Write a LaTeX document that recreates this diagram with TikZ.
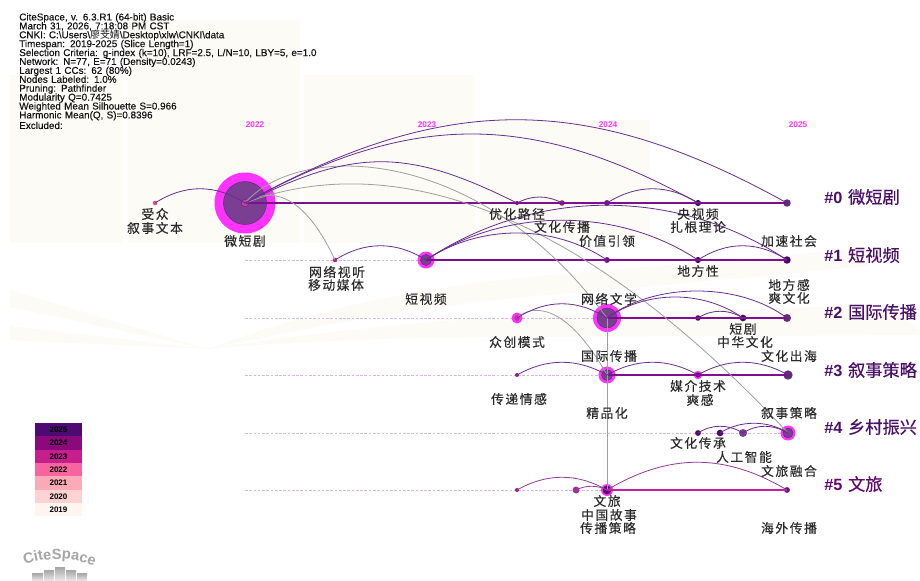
\documentclass[tikz,border=0pt]{standalone}
\usepackage{fontspec}
\setmainfont{Liberation Sans}
\newfontfamily\hdf[FakeBold=0.25]{Liberation Sans}
\newfontfamily\cjk[LetterSpace=12,FakeBold=0.2]{Noto Sans CJK SC}
\newfontfamily\cjkt{Noto Sans CJK SC}
\newfontfamily\cjkc[FakeBold=0.35]{Noto Sans CJK SC}
\usetikzlibrary{decorations.text}
\definecolor{arcp}{HTML}{6A2C8E}
\definecolor{farc}{HTML}{913C96}
\definecolor{linep}{HTML}{800F8F}
\definecolor{linef}{HTML}{C71EA0}
\definecolor{dashp}{HTML}{D7B5E0}
\definecolor{mag}{HTML}{FF33FF}
\definecolor{inner}{HTML}{7A3E92}
\definecolor{cream}{HTML}{FDFBF6}
\definecolor{head}{HTML}{111111}
\definecolor{lab}{HTML}{2A2A2A}
\definecolor{clu}{HTML}{4A1068}
\definecolor{clv}{HTML}{64056E}
\definecolor{d1}{HTML}{D65496}
\definecolor{d2}{HTML}{780A7D}
\definecolor{d3}{HTML}{961E82}
\definecolor{d4}{HTML}{6E147D}
\definecolor{d5}{HTML}{460A69}
\definecolor{d6}{HTML}{5E2E78}
\definecolor{d7}{HTML}{BE1E82}
\definecolor{d8}{HTML}{BE32A0}
\definecolor{d9}{HTML}{550A6E}
\definecolor{d10}{HTML}{A03296}
\definecolor{d11}{HTML}{5A0573}
\definecolor{d12}{HTML}{5F1E7D}
\definecolor{d13}{HTML}{C0409A}
\newcommand{\cjkl}[1]{\hspace{0.9pt}{\mdseries\fontsize{12.9pt}{14pt}\cjkc #1}}
\tikzset{
  x=0.75pt,y=-0.75pt,
  halo/.style={circle,fill=mag,inner sep=0pt,minimum size=#1*0.75pt},
  core/.style={circle,fill=inner,draw=inner!70!black,line width=.3pt,inner sep=0pt,minimum size=#1*0.75pt},
  dot/.style={circle,fill=#1,inner sep=0pt},
  arc/.style={draw=arcp,line width=.6pt},
  garc/.style={draw=gray!75,line width=.6pt},
  rowline/.style={draw=linep,line width=1.4pt},
  rowdash/.style={draw=dashp,line width=.5pt,dash pattern=on 2pt off 1.2pt},
  lbl/.style={text=lab,font=\cjk\fontsize{9.6pt}{10pt}\selectfont,inner sep=0pt,anchor=center},
  yr/.style={text=mag,font=\bfseries\fontsize{6.2pt}{7pt}\selectfont,inner sep=0pt},
  clab/.style={text=clu,font=\bfseries\fontsize{12.2pt}{14pt}\selectfont,inner sep=0pt,anchor=west},
  legbox/.style={inner sep=0pt,minimum width=35.25pt,minimum height=10pt,font=\bfseries\fontsize{6pt}{7pt}\selectfont,text=black},
}
\begin{document}
\begin{tikzpicture}
\useasboundingbox (0,0) rectangle (920,581);
\fill[white] (0,0) rectangle (920,581);
% background
\fill[cream] (128,20) rectangle (300,158);
\fill[cream] (10,75) rectangle (123,243);
\fill[cream] (128,75) rectangle (300,243);
\fill[cream] (304,75) rectangle (475,243);
\fill[cream] (480,120) rectangle (650,240);
\fill[cream] (10,290) -- (208,349) -- (10,307) -- cycle;
\fill[cream] (10,326) -- (208,349) -- (10,340) -- cycle;
\fill[cream] (208,349) .. controls (300,315) and (400,285) .. (610,270) -- (870,248) -- (868,266) -- (610,290) .. controls (450,300) and (320,325) .. (208,349) -- cycle;
\fill[cream] (208,349) .. controls (300,335) and (400,322) .. (540,315) -- (890,305) -- (925,335) -- (480,337) .. controls (380,338) and (280,342) .. (208,349) -- cycle;
% dashed row guides
\coordinate (g1) at (245,260);
\coordinate (g2) at (245,318);
\coordinate (g3) at (245,375);
\coordinate (g4) at (245,433);
\coordinate (g5) at (245,490);
\draw[rowdash] (g1) -- (426,260);
\draw[rowdash] (g2) -- (607,318);
\draw[rowdash] (g3) -- (607,375);
\draw[rowdash] (g4) -- (788,433);
\draw[rowdash] (g5) -- (607,490);
% nodes
\node[halo=61] (a0h) at (245,203) {};
\node[core=43] (a0c) at (245,203) {};
\node[dot=d13,draw=d4,line width=.2pt,minimum size=5.6pt] (a0) at (245,203) {};
\node[dot=d1,minimum size=3.4pt] (a00) at (155,203) {};
\node[dot=d2,minimum size=3pt] (a1) at (517,203) {};
\node[dot=d3,minimum size=4.2pt] (a2) at (562,203) {};
\node[dot=d4,minimum size=4.4pt] (a3) at (607,203) {};
\node[dot=d5,minimum size=4.6pt] (a4) at (698,203) {};
\node[dot=d6,minimum size=5.6pt] (a5) at (787,203) {};
\node[dot=d7,minimum size=3.4pt] (b0) at (335,260) {};
\node[halo=17] (b1h) at (426,260) {};
\node[core=11] (b1) at (426,260) {};
\node[dot=d4,minimum size=4.4pt] (b2) at (607,260) {};
\node[dot=d5,minimum size=4.6pt] (b3) at (698,260) {};
\node[dot=d5,minimum size=5.6pt] (b4) at (787,260) {};
\node[halo=11] (c0h) at (517,318) {};
\node[dot=d8,minimum size=4pt] (c0) at (517,318) {};
\node[halo=28] (c1h) at (607,318) {};
\node[core=20] (c1) at (607,318) {};
\node[dot=d9,minimum size=4.2pt] (c2) at (698,318) {};
\node[dot=d5,minimum size=5pt] (c3) at (743,318) {};
\node[dot=d6,minimum size=6pt] (c4) at (787,318) {};
\node[dot=d3,minimum size=3pt] (d0) at (517,375) {};
\node[halo=17] (d1h) at (607,375) {};
\node[core=11] (d1) at (607,375) {};
\node[halo=8.5] (d2h) at (698,375) {};
\node[dot=d9,minimum size=3.8pt] (d2) at (698,375) {};
\node[dot=d6,minimum size=7pt] (d3) at (788,375) {};
\node[dot=d9,minimum size=4.4pt] (e0) at (698,433) {};
\node[dot=d9,minimum size=5pt] (e1) at (720,433) {};
\node[dot=inner,minimum size=6pt] (e2) at (743,433) {};
\node[halo=15] (e3h) at (788,433) {};
\node[core=10] (e3) at (788,433) {};
\node[dot=d3,minimum size=3pt] (f0) at (517,490) {};
\node[dot=d10,minimum size=5.2pt] (f1) at (576,490) {};
\node[halo=12] (f2h) at (607,490) {};
\node[dot=d11,minimum size=6.6pt] (f2) at (607,490) {};
\node[dot=d12,minimum size=4.4pt] (f3) at (787,490) {};
% row lines
\draw[rowline] (a0.center) -- (a5.center);
\draw[rowline] (b1.center) -- (b4.center);
\draw[rowline] (c1.center) -- (c4.center);
\draw[rowline] (d1.center) -- (d3.center);
\draw[rowline,draw=linef] (f2.center) -- (f3.center);
% grey arcs
\draw[garc] (a0.center) .. controls (320,175) and (510,135) .. (e3.center);
\draw[garc] (a0.center) .. controls (300,140) and (480,145) .. (c1.center);
\draw[garc] (a0.center) .. controls (265,190) and (300,185) .. (b0.center);
\draw[garc] (c0.center) .. controls (530,305) and (565,300) .. (d1.center);
\draw[garc] (c1.center) -- (f2.center);
% purple arcs
\draw[arc] (a00.center) .. controls (185,184) and (215,184) .. (a0.center);
\draw[arc] (a0.center) .. controls (355,148) and (407,148) .. (a1.center);
\draw[arc] (a0.center) .. controls (412,111) and (531,111) .. (a4.center);
\draw[arc] (a0.center) .. controls (445,92) and (587,92) .. (a5.center);
\draw[arc] (a1.center) .. controls (532,195) and (547,195) .. (a2.center);
\draw[arc] (a3.center) .. controls (637,184) and (668,184) .. (a4.center);
\draw[arc] (b0.center) .. controls (365,241) and (396,241) .. (b1.center);
\draw[arc] (b1.center) .. controls (480,224) and (553,224) .. (b2.center);
\draw[arc] (b1.center) .. controls (506,207) and (618,207) .. (b3.center);
\draw[arc] (b1.center) .. controls (536,187) and (677,187) .. (b4.center);
\draw[arc] (b3.center) .. controls (727,241) and (758,241) .. (b4.center);
\draw[arc] (c0.center) .. controls (547,299) and (577,299) .. (c1.center);
\draw[arc] (c1.center) .. controls (647,290) and (703,290) .. (c3.center);
\draw[arc] (c1.center) .. controls (655,282) and (739,282) .. (c4.center);
\draw[arc] (c2.center) .. controls (712,309) and (728,309) .. (c3.center);
\draw[arc] (d0.center) .. controls (547,358) and (577,358) .. (d1.center);
\draw[arc] (d1.center) .. controls (637,358) and (668,358) .. (d2.center);
\draw[arc] (d2.center) .. controls (727,358) and (758,358) .. (d3.center);
\draw[arc] (e0.center) .. controls (712,424) and (728,424) .. (e2.center);
\draw[arc] (e1.center) .. controls (740,420) and (768,420) .. (e3.center);
\draw[arc] (e2.center) .. controls (757,424) and (772,424) .. (e3.center);
\draw[arc,draw=farc] (f0.center) .. controls (547,473) and (577,473) .. (f2.center);
\draw[arc,draw=farc] (f1.center) .. controls (586,485) and (597,485) .. (f2.center);
\draw[arc,draw=farc] (f2.center) .. controls (669,453) and (725,453) .. (f3.center);
% header
\node[anchor=north west,inner sep=0pt,text=head,align=left,font=\hdf\fontsize{7.42pt}{6.68pt}\selectfont,text width=320pt] (hdr) at (19,13) {\lineskiplimit=-5pt\relax CiteSpace, v. 6.3.R1 (64-bit) Basic\\
March 31, 2026, 7:18:08 PM CST\\
CNKI: C:\textbackslash Users\textbackslash{\cjkt 廖芠婧}\textbackslash Desktop\textbackslash xlw\textbackslash CNKI\textbackslash data\\
Timespan: 2019-2025 (Slice Length=1)\\
Selection Criteria: g-index (k=10), LRF=2.5, L/N=10, LBY=5, e=1.0\\
Network: N=77, E=71 (Density=0.0243)\\
Largest 1 CCs: 62 (80\%)\\
Nodes Labeled: 1.0\%\\
Pruning: Pathfinder\\
Modularity Q=0.7425\\
Weighted Mean Silhouette S=0.966\\
Harmonic Mean(Q, S)=0.8396\\
Excluded:};
% years
\node[yr] (y22) at (255,125) {2022};
\node[yr] (y23) at (427,125) {2023};
\node[yr] (y24) at (608,125) {2024};
\node[yr] (y25) at (798,125) {2025};
% labels
\foreach \n/\x/\y/\t in {
 l1/155/214/受众,l2/155/228/叙事文本,l3/245/241/微短剧,l4/337/272/网络视听,l5/336/285/移动媒体,
 l6/426/299/短视频,l7/517/214/优化路径,l8/562/227/文化传播,l9/607/241/价值引领,l10/698/214/央视频,
 l11/698/227/扎根理论,l12/789/241/加速社会,l13/698/271/地方性,l14/789/285/地方感,l15/789/298/爽文化,
 l16/609/299/网络文学,l17/743/329/短剧,l18/745/342/中华文化,l19/517/342/众创模式,l20/609/356/国际传播,
 l21/789/356/文化出海,l22/698/386/媒介技术,l23/700/400/爽感,l24/519/399/传递情感,l25/607/413/精品化,
 l26/789/413/叙事策略,l27/698/443/文化传承,l28/744/457/人工智能,l29/789/471/文旅融合,l30/607/501/文旅,
 l31/609/515/中国故事,l32/608/528/传播策略,l33/789/528/海外传播}
 {\node[lbl] (\n) at (\x,\y) {\t};}
% cluster labels
\node[clab] (k0) at (824,197) {\#0 \cjkl{微短剧}};
\node[clab] (k1) at (824,255) {\#1 \cjkl{短视频}};
\node[clab] (k2) at (824,312) {\#2 \cjkl{国际传播}};
\node[clab] (k3) at (824,370) {\#3 \cjkl{叙事策略}};
\node[clab] (k4) at (824,427) {\#4 \cjkl{乡村振兴}};
\node[clab,text=clv] (k5) at (824,484) {\#5 \cjkl{文旅}};
% legend
\foreach \n/\c/\y/\t in {s0/4D0A73/429.6/2025,s1/8A0A7B/443/2024,s2/C71E8E/456.3/2023,s3/F765A0/469.6/2022,s4/FBABB8/483/2021,s5/FDD2D2/496.3/2020,s6/FFF5F0/509.6/2019}
 {\definecolor{cc}{HTML}{\c}\node[legbox,fill=cc] (\n) at (58.5,\y) {\t};}
% logo
\foreach \x/\w/\t in {32/11/573,44/10/570,55/10/567,66/10/570,77/10/573}
 {\shade[top color=gray!70,bottom color=gray!15] (\x,\t) rectangle (\x+\w,581);}
\path[postaction={decorate,decoration={text along path,text align=center,
   text={|\bfseries\fontsize{11pt}{11pt}\selectfont\color{gray!70}|CiteSpace}}}]
 (22,566) .. controls (45,557) and (70,556) .. (97,567);
\end{tikzpicture}
\end{document}
